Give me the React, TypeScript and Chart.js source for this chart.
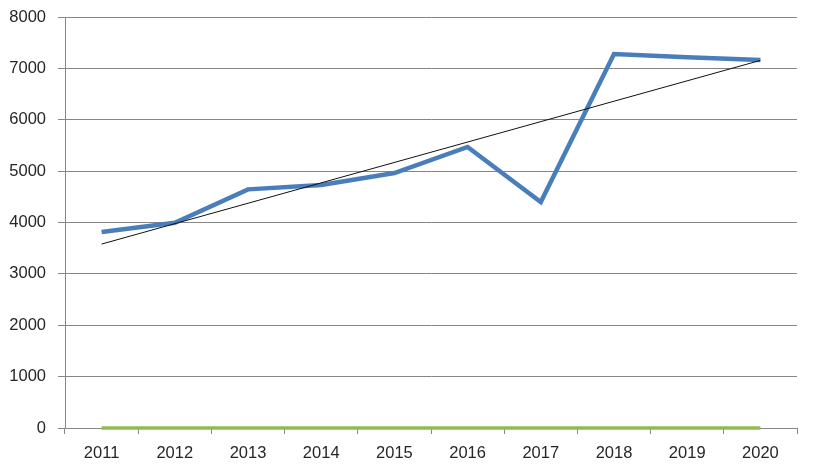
import React, { useEffect, useRef } from "react";
import { Chart, registerables } from "chart.js";

Chart.register(...registerables);

const categories = ["2011", "2012", "2013", "2014", "2015", "2016", "2017", "2018", "2019", "2020"];
const mainValues = [3815, 3995, 4645, 4730, 4963, 5470, 4399, 7280, 7215, 7163];
const zeroValues = [0, 0, 0, 0, 0, 0, 0, 0, 0, 0];
const trendValues = [3580, null, null, null, null, null, null, null, null, 7155];
const yTicks = [0, 1000, 2000, 3000, 4000, 5000, 6000, 7000, 8000];

export default function App() {
  const ref = useRef<HTMLCanvasElement | null>(null);

  useEffect(() => {
    if (!ref.current) return;
    const font = { family: "'Liberation Sans', Arial, sans-serif", size: 16.5 };
    const chart = new Chart(ref.current, {
      type: "line",
      data: {
        labels: categories,
        datasets: [
          {
            data: mainValues,
            borderColor: "#4a7ebb",
            borderWidth: 4.5,
            pointRadius: 0,
            tension: 0,
            fill: false,
            order: 2,
            clip: false as any,
          },
          {
            data: zeroValues,
            borderColor: "#8fbc52",
            borderWidth: 3.5,
            pointRadius: 0,
            fill: false,
            order: 3,
            clip: false as any,
          },
          {
            data: trendValues,
            borderColor: "#111111",
            borderWidth: 1,
            pointRadius: 0,
            spanGaps: true,
            fill: false,
            order: 1,
            clip: false as any,
          },
        ],
      },
      options: {
        responsive: false,
        animation: false,
        layout: { padding: { top: 17, right: 18, left: 0, bottom: 0 } },
        plugins: { legend: { display: false }, tooltip: { enabled: false } },
        scales: {
          x: {
            type: "category",
            offset: true,
            grid: {
              offset: true,
              drawOnChartArea: false,
              drawTicks: true,
              tickLength: 6,
              color: "#868686",
            },
            border: { display: true, color: "#868686", width: 1 },
            ticks: { color: "#262626", font, padding: 10, maxRotation: 0, autoSkip: false },
            afterFit: (scale: any) => {
              scale.height = 45;
              scale.paddingLeft = 0;
              scale.paddingRight = 0;
            },
          },
          y: {
            min: 0,
            max: 8000,
            afterBuildTicks: (scale: any) => {
              scale.ticks = yTicks.map((v) => ({ value: v }));
            },
            grid: {
              color: "#868686",
              lineWidth: 1,
              drawTicks: true,
              tickLength: 7,
            },
            border: { display: true, color: "#868686", width: 1 },
            ticks: {
              color: "#262626",
              font,
              padding: 12,
              callback: (v: any) => String(v),
            },
            afterFit: (scale: any) => {
              scale.width = 65;
              scale.paddingTop = 0;
              scale.paddingBottom = 0;
            },
          },
        },
      },
    });
    return () => chart.destroy();
  }, []);

  return (
    <div style={{ position: "fixed", left: 0, top: 0, width: 815, height: 473, background: "#fff" }}>
      <canvas ref={ref} width={815} height={473} />
    </div>
  );
}
